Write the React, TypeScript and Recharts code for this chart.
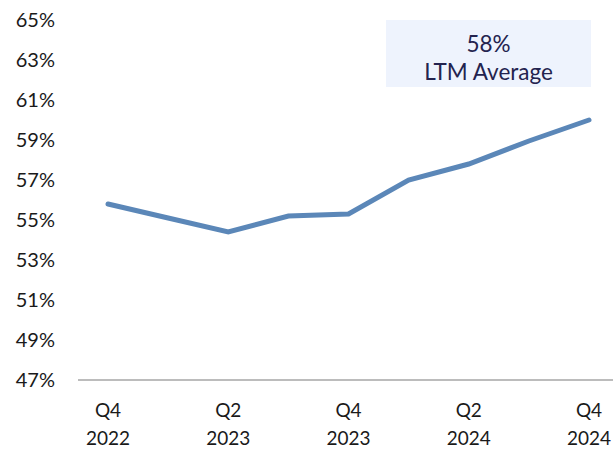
import { LineChart, Line, XAxis, YAxis } from "recharts"

const quarters = ["Q4 2022", "Q1 2023", "Q2 2023", "Q3 2023", "Q4 2023", "Q1 2024", "Q2 2024", "Q3 2024", "Q4 2024"]
const margins = [55.8, 55.1, 54.4, 55.2, 55.3, 57.0, 57.8, 58.95, 60.0]
const yTicks = [47, 49, 51, 53, 55, 57, 59, 61, 63, 65]
const labelled = ["Q4 2022", "Q2 2023", "Q4 2023", "Q2 2024", "Q4 2024"]
const ltmAverage = "58%"
const ltmLabel = "LTM Average"

const font = "Lato, 'Liberation Sans', sans-serif"

const chartData = quarters.map((q, i) => ({ quarter: q, margin: margins[i] }))

function QuarterTick(props: any) {
  const { x, y, payload } = props
  if (!labelled.includes(payload.value)) return null
  const [q, yr] = payload.value.split(" ")
  return (
    <text x={x} y={y} textAnchor="middle" fill="#1a1a1a" fontSize={19} fontFamily={font}>
      <tspan x={x} dy={29}>{q}</tspan>
      <tspan x={x} dy={28}>{yr}</tspan>
    </text>
  )
}

export default function App() {
  return (
    <div style={{ position: "absolute", left: 0, top: 0, width: 613, height: 450, overflow: "hidden", background: "#fff" }}>
      <LineChart width={625} height={450} data={chartData} margin={{ top: 20, right: 6, bottom: 10, left: 0 }}>
        <XAxis
          dataKey="quarter"
          interval={0}
          tick={<QuarterTick />}
          tickLine={false}
          axisLine={{ stroke: "#a6a6a6", strokeWidth: 1.5 }}
          padding={{ left: 30, right: 30 }}
          height={60}
        />
        <YAxis
          domain={[47, 65]}
          ticks={yTicks}
          width={78}
          axisLine={false}
          tickLine={false}
          tickSize={0}
          tickMargin={23}
          tickFormatter={(v) => `${v}%`}
          tick={{ fill: "#1a1a1a", fontSize: 20, fontFamily: font }}
        />
        <Line
          type="linear"
          dataKey="margin"
          stroke="#5b87b8"
          strokeWidth={5}
          strokeLinecap="round"
          dot={false}
          isAnimationActive={false}
        />
      </LineChart>
      <div
        style={{
          position: "absolute",
          left: 386,
          top: 20,
          width: 205,
          height: 67,
          background: "#eef3fd",
          color: "#23234f",
          fontFamily: font,
          fontSize: 22.5,
          lineHeight: "28px",
          textAlign: "center",
          paddingTop: 10,
          boxSizing: "border-box",
        }}
      >
        <div>{ltmAverage}</div>
        <div>{ltmLabel}</div>
      </div>
    </div>
  )
}
